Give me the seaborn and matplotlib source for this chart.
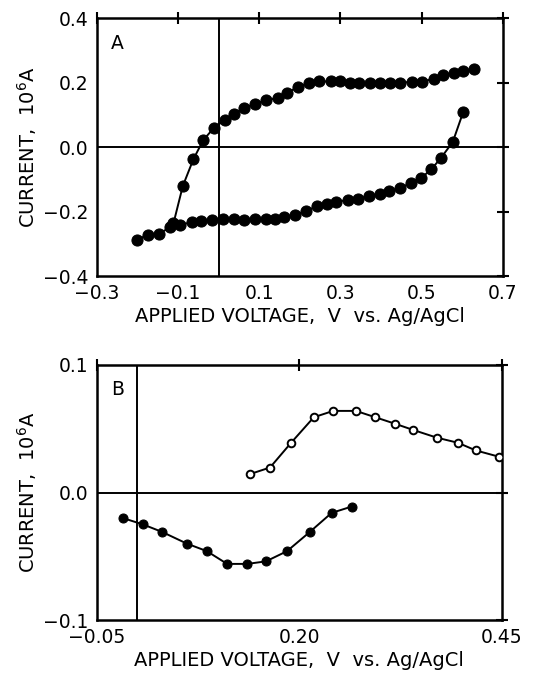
import matplotlib
matplotlib.use("Agg")
import matplotlib.pyplot as plt
import seaborn as sns
import pandas as pd

# Panel A: lower branch
a_low_v = [-0.201, -0.173, -0.146, -0.119, -0.094, -0.066, -0.042, -0.015, 0.011, 0.037,
           0.064, 0.091, 0.117, 0.140, 0.162, 0.189, 0.216, 0.243, 0.267, 0.290,
           0.319, 0.344, 0.370, 0.397, 0.421, 0.448, 0.473, 0.499, 0.524, 0.547,
           0.577, 0.603]
a_low_i = [-0.287, -0.272, -0.269, -0.248, -0.241, -0.233, -0.230, -0.225, -0.223, -0.223,
           -0.225, -0.223, -0.223, -0.223, -0.216, -0.210, -0.198, -0.183, -0.177, -0.171,
           -0.163, -0.160, -0.152, -0.145, -0.136, -0.127, -0.111, -0.096, -0.069, -0.035,
           0.016, 0.110]
# Panel A: upper branch
a_up_v = [-0.111, -0.088, -0.062, -0.038, -0.012, 0.015, 0.039, 0.064, 0.091, 0.117,
          0.146, 0.169, 0.195, 0.223, 0.247, 0.276, 0.299, 0.323, 0.346, 0.374,
          0.399, 0.422, 0.448, 0.477, 0.502, 0.531, 0.554, 0.580, 0.603, 0.629]
a_up_i = [-0.237, -0.121, -0.038, 0.021, 0.059, 0.084, 0.104, 0.122, 0.135, 0.145,
          0.153, 0.169, 0.186, 0.200, 0.204, 0.204, 0.204, 0.198, 0.198, 0.198,
          0.198, 0.198, 0.200, 0.203, 0.203, 0.213, 0.223, 0.231, 0.236, 0.244]

# Panel B: filled (cathodic) and open (anodic)
b_fill_v = [-0.018, 0.007, 0.031, 0.061, 0.086, 0.111, 0.136, 0.159, 0.185, 0.213, 0.240, 0.265]
b_fill_i = [-0.020, -0.025, -0.031, -0.040, -0.046, -0.056, -0.056, -0.054, -0.046, -0.031, -0.016, -0.011]
b_open_v = [0.139, 0.164, 0.190, 0.218, 0.242, 0.270, 0.294, 0.318, 0.341, 0.370, 0.396, 0.418, 0.447]
b_open_i = [0.0144, 0.0196, 0.039, 0.059, 0.064, 0.064, 0.059, 0.054, 0.049, 0.043, 0.039, 0.033, 0.028]

a_xticks = [-0.3, -0.1, 0.1, 0.3, 0.5, 0.7]
a_yticks = [-0.4, -0.2, 0.0, 0.2, 0.4]
b_xticks = [-0.05, 0.20, 0.45]
b_yticks = [-0.1, 0.0, 0.1]

sns.set_style("white")
plt.rcParams['font.family'] = ['DejaVu Sans']
plt.rcParams['axes.unicode_minus'] = True
plt.rcParams['text.color'] = 'black'
plt.rcParams['axes.labelcolor'] = 'black'

fig = plt.figure(figsize=(5.37, 6.79), dpi=100)
W, H = 537, 679
axA = fig.add_axes([96.7 / W, 1 - 276 / H, (502.7 - 96.7) / W, (276 - 18.3) / H])
axB = fig.add_axes([96.7 / W, 1 - 620 / H, (501.7 - 96.7) / W, (620 - 365) / H])

def style(ax, xt, yt, xfmt, yfmt, xl, yl):
    ax.set_xlim(xl)
    ax.set_ylim(yl)
    ax.set_xticks(xt)
    ax.set_yticks(yt)
    ax.set_xticklabels([xfmt.format(v).replace('-', '\u2212') for v in xt])
    ax.set_yticklabels([yfmt.format(v).replace('-', '\u2212') for v in yt])
    for s in ax.spines.values():
        s.set_visible(True)
        s.set_color('black')
        s.set_linewidth(1.8)
    ax.tick_params(direction='inout', length=8, width=1.5, top=True, right=True,
                   labelsize=13.5, colors='black', labelcolor='black', pad=2)
    ax.axhline(0, color='black', lw=1.4, zorder=1)
    ax.axvline(0, color='black', lw=1.4, zorder=1)
    ax.set_xlabel('APPLIED VOLTAGE,  V  vs. Ag/AgCl', fontsize=14, labelpad=3, color='black')
    ax.set_ylabel('CURRENT,  10$^{6}$A', fontsize=14, labelpad=3, color='black')

dA1 = pd.DataFrame({'v': a_low_v, 'i': a_low_i})
dA2 = pd.DataFrame({'v': a_up_v, 'i': a_up_i})
for d in (dA1, dA2):
    sns.lineplot(data=d, x='v', y='i', sort=False, estimator=None, ax=axA,
                 color='black', lw=1.4, marker='o', markersize=8,
                 markerfacecolor='black', markeredgecolor='black', zorder=3)
style(axA, a_xticks, a_yticks, '{:.1f}', '{:.1f}', (-0.3, 0.7), (-0.4, 0.4))
axA.text(0.035, 0.94, 'A', transform=axA.transAxes, fontsize=13.5, va='top', ha='left',
         color='black')

dB1 = pd.DataFrame({'v': b_fill_v, 'i': b_fill_i})
dB2 = pd.DataFrame({'v': b_open_v, 'i': b_open_i})
sns.lineplot(data=dB1, x='v', y='i', sort=False, estimator=None, ax=axB,
             color='black', lw=1.4, marker='o', markersize=6.5,
             markerfacecolor='black', markeredgecolor='black', zorder=3)
sns.lineplot(data=dB2, x='v', y='i', sort=False, estimator=None, ax=axB,
             color='black', lw=1.4, marker='o', markersize=5.5,
             markerfacecolor='white', markeredgecolor='black', markeredgewidth=1.4, zorder=3)
style(axB, b_xticks, b_yticks, '{:.2f}', '{:.1f}', (-0.05, 0.45), (-0.1, 0.1))
axB.text(0.035, 0.94, 'B', transform=axB.transAxes, fontsize=13.5, va='top', ha='left',
         color='black')

fig.savefig('out.png', dpi=100, facecolor='white')
